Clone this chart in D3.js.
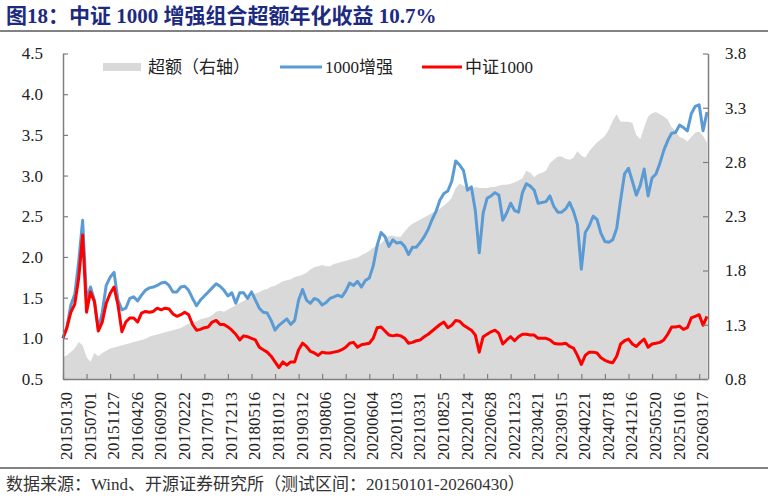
<!DOCTYPE html>
<html><head><meta charset="utf-8">
<script src="https://cdn.jsdelivr.net/npm/d3@7"></script>
<style>
html,body{margin:0;padding:0;background:#fff;}
svg text{font-family:'Liberation Serif','Noto Sans CJK SC',serif;}
</style></head>
<body><svg id="c" width="774" height="498"></svg>
<script>
const enhanced = [1.00,1.14,1.41,1.54,1.94,2.45,1.47,1.63,1.47,1.10,
1.32,1.65,1.75,1.81,1.47,1.35,1.37,1.49,1.51,1.46,
1.53,1.59,1.62,1.63,1.65,1.68,1.69,1.65,1.57,1.57,
1.63,1.64,1.59,1.49,1.40,1.47,1.52,1.57,1.62,1.67,
1.64,1.59,1.52,1.56,1.43,1.56,1.56,1.49,1.57,1.47,
1.37,1.32,1.31,1.22,1.10,1.16,1.20,1.24,1.17,1.22,
1.47,1.60,1.47,1.43,1.49,1.47,1.41,1.44,1.49,1.51,
1.53,1.51,1.58,1.68,1.65,1.70,1.63,1.71,1.74,1.89,
2.14,2.30,2.25,2.13,2.21,2.17,2.18,2.13,2.03,2.12,
2.12,2.18,2.25,2.34,2.46,2.56,2.70,2.78,2.81,2.93,
3.18,3.13,3.06,2.82,2.86,2.57,2.05,2.54,2.72,2.75,
2.79,2.76,2.45,2.54,2.66,2.57,2.55,2.79,2.90,2.87,
2.82,2.66,2.67,2.68,2.75,2.62,2.55,2.55,2.59,2.67,
2.56,2.40,1.85,2.30,2.38,2.50,2.46,2.29,2.19,2.18,
2.21,2.35,2.70,3.02,3.09,2.93,2.76,2.88,3.08,2.75,
2.97,3.02,3.15,3.31,3.43,3.52,3.53,3.62,3.59,3.55,
3.76,3.85,3.87,3.55,3.78];
const csi1000 = [1.00,1.13,1.32,1.42,1.74,2.27,1.32,1.57,1.45,1.09,
1.20,1.43,1.55,1.63,1.41,1.08,1.20,1.25,1.25,1.20,
1.31,1.33,1.32,1.33,1.37,1.35,1.37,1.36,1.30,1.27,
1.29,1.32,1.29,1.17,1.10,1.11,1.13,1.14,1.20,1.22,
1.17,1.17,1.14,1.10,1.05,0.98,1.03,1.02,1.00,0.98,
0.89,0.86,0.83,0.78,0.71,0.64,0.71,0.67,0.71,0.71,
0.86,0.94,0.90,0.84,0.82,0.79,0.83,0.82,0.82,0.83,
0.84,0.86,0.89,0.94,0.95,0.89,0.92,0.93,0.94,1.00,
1.13,1.14,1.09,1.04,1.03,1.04,1.03,1.00,0.94,0.95,
0.97,0.98,1.02,1.05,1.09,1.13,1.17,1.20,1.13,1.16,
1.22,1.21,1.16,1.13,1.10,1.04,0.83,1.02,1.05,1.08,
1.10,1.06,0.93,0.98,1.02,0.97,1.02,1.05,1.05,1.04,
1.04,1.00,1.00,1.00,0.98,0.94,0.93,0.93,0.94,0.90,
0.88,0.79,0.68,0.79,0.83,0.83,0.82,0.76,0.73,0.71,
0.70,0.78,0.93,0.97,0.99,0.93,0.90,0.95,0.99,0.89,
0.93,0.94,0.95,0.98,1.05,1.14,1.14,1.15,1.11,1.13,
1.25,1.27,1.29,1.16,1.27];
const excess = [1.00,1.02,1.05,1.08,1.14,1.11,1.00,0.96,1.04,1.01,
1.04,1.06,1.08,1.09,1.10,1.11,1.12,1.13,1.14,1.15,
1.16,1.17,1.19,1.20,1.21,1.22,1.23,1.24,1.25,1.26,
1.27,1.29,1.31,1.32,1.33,1.35,1.36,1.37,1.39,1.42,
1.43,1.42,1.44,1.46,1.48,1.50,1.52,1.54,1.56,1.59,
1.60,1.62,1.63,1.65,1.66,1.68,1.70,1.71,1.72,1.74,
1.75,1.76,1.78,1.81,1.83,1.84,1.85,1.84,1.84,1.86,
1.87,1.88,1.89,1.90,1.91,1.92,1.94,1.96,1.98,2.01,
2.03,2.05,2.09,2.12,2.12,2.11,2.11,2.16,2.20,2.23,
2.25,2.27,2.29,2.31,2.33,2.35,2.37,2.40,2.43,2.47,
2.56,2.60,2.58,2.56,2.55,2.57,2.56,2.56,2.56,2.57,
2.57,2.58,2.59,2.59,2.60,2.61,2.63,2.65,2.72,2.70,
2.66,2.69,2.70,2.72,2.79,2.82,2.85,2.85,2.83,2.82,
2.84,2.90,2.86,2.84,2.90,2.94,2.98,3.01,3.04,3.10,
3.18,3.24,3.17,3.17,3.17,3.16,3.05,3.01,3.12,3.22,
3.25,3.26,3.24,3.22,3.19,3.12,3.08,3.03,3.02,2.99,
3.03,3.07,3.08,3.04,2.98];
const xLabels = ["20150130","20150701","20151127","20160426","20160920","20170222","20170719","20171213","20180516","20181012","20190312","20190806","20200102","20200604","20201103","20210331","20210825","20220124","20220628","20221123","20230421","20230915","20240221","20240718","20241216","20250520","20251016","20260317"];
const samplesPerLabel = 6;
const leftTicks = [0.5,1.0,1.5,2.0,2.5,3.0,3.5,4.0,4.5];
const rightTicks = [0.8,1.3,1.8,2.3,2.8,3.3,3.8];
const titleText = "图18：中证 1000 增强组合超额年化收益 10.7%";
const sourceText = "数据来源：Wind、开源证券研究所（测试区间：20150101-20260430）";
const legendNames = ["超额（右轴）","1000增强","中证1000"];

const svg = d3.select("#c");
const L = 63, R = 708, T = 53.5, B = 379;
const x = d3.scaleLinear().domain([0, enhanced.length - 1]).range([L, 707]);
const yL = d3.scaleLinear().domain([0.5, 4.5]).range([B, T]);
const yR = d3.scaleLinear().domain([0.8, 3.8]).range([B, T]);
const axisColor = "#7f7f7f";

// title & rules
svg.append("text").attr("x", 6).attr("y", 23).attr("font-size", 21).attr("font-weight", "bold")
  .attr("fill", "#1c2b7f").text(titleText);
svg.append("line").attr("x1", 0).attr("x2", 768).attr("y1", 31).attr("y2", 31).attr("stroke", "#595959").attr("stroke-width", 1.5);
svg.append("line").attr("x1", 0).attr("x2", 768).attr("y1", 468).attr("y2", 468).attr("stroke", "#595959").attr("stroke-width", 1.5);
svg.append("text").attr("x", 6).attr("y", 490).attr("font-size", 17).attr("fill", "#333").text(sourceText);

// area
const area = d3.area().x((d, i) => x(i)).y0(B).y1(d => yR(d));
svg.append("path").datum(excess).attr("d", area).attr("fill", "#d9d9d9");

const line = d3.line().x((d, i) => x(i)).y(d => yL(d));
svg.append("path").datum(enhanced).attr("d", line).attr("fill", "none").attr("stroke", "#5b9bd5").attr("stroke-width", 3).attr("stroke-linejoin", "round");
svg.append("path").datum(csi1000).attr("d", line).attr("fill", "none").attr("stroke", "#ff0000").attr("stroke-width", 3).attr("stroke-linejoin", "round");

// axes
const gL = svg.append("g").attr("transform", `translate(${L},0)`)
  .call(d3.axisLeft(yL).tickValues(leftTicks).tickFormat(d3.format(".1f")).tickSizeInner(-5).tickSizeOuter(0).tickPadding(20));
const gR = svg.append("g").attr("transform", `translate(${R},0)`)
  .call(d3.axisRight(yR).tickValues(rightTicks).tickFormat(d3.format(".1f")).tickSizeInner(-5).tickSizeOuter(0).tickPadding(17));
const tickIdx = xLabels.map((d, k) => k * samplesPerLabel);
const gX = svg.append("g").attr("transform", `translate(0,${B})`)
  .call(d3.axisBottom(x).tickValues(tickIdx).tickFormat((d, k) => xLabels[k]).tickSizeInner(-5).tickSizeOuter(0));
[gL, gR, gX].forEach(g => {
  g.select(".domain").attr("stroke", axisColor).attr("stroke-width", 1.5);
  g.selectAll(".tick line").attr("stroke", axisColor).attr("stroke-width", 1.2);
  g.selectAll("text").attr("font-size", 17).attr("fill", "#222").attr("font-family", "'Liberation Serif',serif");
});
gX.selectAll(".tick text").attr("transform", "rotate(-90)").attr("text-anchor", "end")
  .attr("x", -13).attr("y", 0).attr("dy", "0.5em");

// legend
const lg = svg.append("g").attr("font-size", 17).attr("fill", "#222");
lg.append("rect").attr("x", 103).attr("y", 63).attr("width", 38).attr("height", 8).attr("fill", "#d9d9d9");
lg.append("text").attr("x", 148).attr("y", 73).text(legendNames[0]);
lg.append("line").attr("x1", 280).attr("x2", 322).attr("y1", 67).attr("y2", 67).attr("stroke", "#5b9bd5").attr("stroke-width", 3);
lg.append("text").attr("x", 325).attr("y", 73).text(legendNames[1]);
lg.append("line").attr("x1", 422).attr("x2", 462).attr("y1", 67).attr("y2", 67).attr("stroke", "#ff0000").attr("stroke-width", 3);
lg.append("text").attr("x", 465).attr("y", 73).text(legendNames[2]);
</script></body></html>
